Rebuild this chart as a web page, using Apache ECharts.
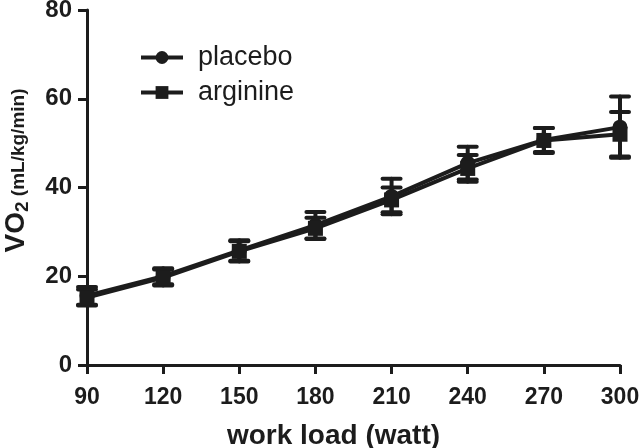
<!DOCTYPE html>
<html>
<head>
<meta charset="utf-8">
<script src="https://cdn.jsdelivr.net/npm/echarts@6/dist/echarts.min.js"></script>
<style>
html,body{margin:0;padding:0;background:#fff;}
#chart{width:641px;height:448px;}
</style>
</head>
<body>
<div id="chart"></div>
<script>
// ---- data ----
var loads = [90, 120, 150, 180, 210, 240, 270, 300];
var placebo = [15.6, 20.0, 25.8, 31.5, 38.0, 45.5, 50.7, 53.6];
var placeboErr = [2.0, 1.8, 2.3, 3.0, 4.0, 3.7, 2.7, 6.9];
var arginine = [15.2, 19.7, 25.6, 30.8, 37.2, 44.3, 50.6, 52.0];
var arginineErr = [1.8, 1.8, 2.3, 2.4, 2.8, 3.0, 2.8, 5.0];
var yTicks = [0, 20, 40, 60, 80];
var xTicks = [90, 120, 150, 180, 210, 240, 270, 300];

var INK = '#1c1c1c';
var FONT = '"Liberation Sans", Arial, Helvetica, sans-serif';

function pairs(xs, ys) { return xs.map(function (x, i) { return [x, ys[i]]; }); }
function errData(xs, ys, es) { return xs.map(function (x, i) { return [x, ys[i] - es[i], ys[i] + es[i]]; }); }

function errRender(params, api) {
  var x = api.value(0);
  var lo = api.coord([x, api.value(1)]);
  var hi = api.coord([x, api.value(2)]);
  var hw = 9;
  var st = { stroke: INK, lineWidth: 4, lineCap: 'round' };
  return {
    type: 'group',
    children: [
      { type: 'line', shape: { x1: lo[0], y1: lo[1], x2: hi[0], y2: hi[1] }, style: st },
      { type: 'line', shape: { x1: hi[0] - hw, y1: hi[1], x2: hi[0] + hw, y2: hi[1] }, style: st },
      { type: 'line', shape: { x1: lo[0] - hw, y1: lo[1], x2: lo[0] + hw, y2: lo[1] }, style: st }
    ]
  };
}

var chart = echarts.init(document.getElementById('chart'), null, { renderer: 'canvas' });
chart.setOption({
  animation: false,
  backgroundColor: '#fff',
  color: [INK, INK, INK, INK],
  textStyle: { fontFamily: FONT },
  grid: { left: 87, right: 21, top: 10, bottom: 83, containLabel: false, outerBoundsMode: 'none' },
  legend: {
    orient: 'vertical',
    left: 134,
    top: 39,
    itemWidth: 42,
    itemHeight: 16,
    itemGap: 8,
    lineStyle: { width: 4, color: INK },
    textStyle: { fontFamily: FONT, fontSize: 27, color: INK, padding: [0, 0, 0, 10] },
    data: ['placebo', 'arginine']
  },
  xAxis: {
    type: 'value',
    min: xTicks[0],
    max: xTicks[xTicks.length - 1],
    interval: 30,
    name: 'work load (watt)',
    nameLocation: 'middle',
    nameGap: 57,
    nameTextStyle: { fontFamily: FONT, fontSize: 28, fontWeight: 'bold', color: INK, padding: [0, 40, 0, 0] },
    axisLine: { show: true, lineStyle: { color: INK, width: 3 } },
    axisTick: { show: true, length: 9, lineStyle: { color: INK, width: 3 } },
    axisLabel: { fontFamily: FONT, fontSize: 23, fontWeight: 'bold', color: INK, margin: 21 },
    splitLine: { show: false }
  },
  yAxis: {
    type: 'value',
    min: yTicks[0],
    max: yTicks[yTicks.length - 1],
    interval: 20,
    name: '{a|VO}{b|2}{c| (mL/kg/min)}',
    nameLocation: 'middle',
    nameGap: 55,
    nameTextStyle: {
      padding: [0, 0, 0, 34],
      rich: {
        a: { fontFamily: FONT, fontSize: 28, fontWeight: 'bold', color: INK },
        b: { fontFamily: FONT, fontSize: 19, fontWeight: 'bold', color: INK, padding: [12, 0, 0, 0] },
        c: { fontFamily: FONT, fontSize: 19, fontWeight: 'bold', color: INK, padding: [4, 0, 0, 0] }
      }
    },
    axisLine: { show: true, lineStyle: { color: INK, width: 3 } },
    axisTick: { show: true, length: 9, lineStyle: { color: INK, width: 3 } },
    axisLabel: { fontFamily: FONT, fontSize: 24, fontWeight: 'bold', color: INK, margin: 15 },
    splitLine: { show: false }
  },
  series: [
    {
      name: 'placebo SEM', type: 'custom', renderItem: errRender,
      data: errData(loads, placebo, placeboErr), z: 2, silent: true,
      encode: { x: 0, y: [1, 2] }
    },
    {
      name: 'arginine SEM', type: 'custom', renderItem: errRender,
      data: errData(loads, arginine, arginineErr), z: 2, silent: true,
      encode: { x: 0, y: [1, 2] }
    },
    {
      name: 'placebo', type: 'line', data: pairs(loads, placebo),
      symbol: 'circle', symbolSize: 15, z: 3,
      lineStyle: { color: INK, width: 4 }, itemStyle: { color: INK }
    },
    {
      name: 'arginine', type: 'line', data: pairs(loads, arginine),
      symbol: 'rect', symbolSize: 15, z: 3,
      lineStyle: { color: INK, width: 4 }, itemStyle: { color: INK }
    }
  ]
});
</script>
</body>
</html>
